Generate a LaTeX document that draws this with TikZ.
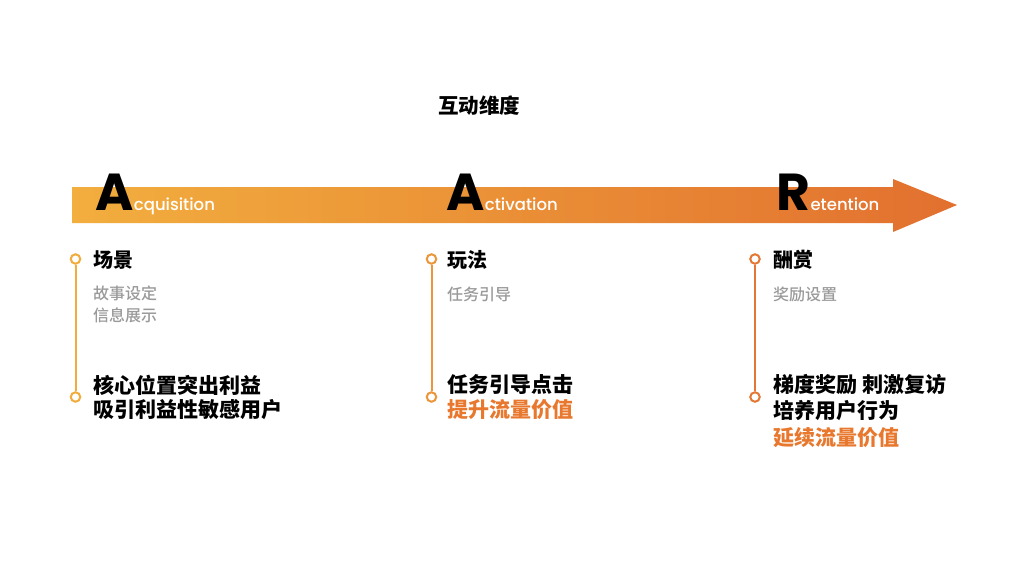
\documentclass[tikz,border=0pt]{standalone}
\usepackage{fontspec}
\setmainfont{Noto Sans CJK SC}[BoldFont=Noto Sans CJK SC Bold]
\newfontfamily\cjkheavy{Noto Sans CJK SC Black}
\newfontfamily\cjkmed{Noto Sans CJK SC Medium}
\newfontfamily\pop{Poppins}
\newfontfamily\popm{Poppins Medium}
\definecolor{cA}{HTML}{F2AC3C}
\definecolor{cB}{HTML}{EC963C}
\definecolor{cC}{HTML}{E27834}
\definecolor{gL}{HTML}{F2AE3E}
\definecolor{gR}{HTML}{E2702F}
\definecolor{txtor}{HTML}{E8782E}
\definecolor{gry}{HTML}{9A9A9A}
\begin{document}
\begin{tikzpicture}[x=1pt,y=-1pt,
  big/.style={anchor=base west,inner sep=0pt,font=\pop\bfseries\fontsize{52}{52}\selectfont,text=black},
  small/.style={anchor=base west,inner sep=0pt,font=\popm\fontsize{16.5}{16.5}\selectfont,text=white},
  head/.style={anchor=west,inner sep=0pt,font=\cjkheavy\fontsize{20}{20}\selectfont},
  sub/.style={anchor=west,inner sep=0pt,font=\cjkmed\fontsize{16}{16}\selectfont,text=gry},
  main/.style={anchor=west,inner sep=0pt,font=\cjkheavy\fontsize{21}{21}\selectfont},
  dotA/.style={circle,draw=cA,line width=2pt,fill=white,minimum size=9.5pt,inner sep=0pt},
  dotB/.style={circle,draw=cB,line width=2pt,fill=white,minimum size=9.5pt,inner sep=0pt},
  dotC/.style={circle,draw=cC,line width=2pt,fill=white,minimum size=9.5pt,inner sep=0pt},
  vline/.style={line width=2pt}]
\useasboundingbox (0,0) rectangle (1024,576);
\fill[white] (0,0) rectangle (1024,576);
% title
\node[inner sep=0pt,font=\cjkheavy\fontsize{20.5}{20.5}\selectfont] (title) at (479,106) {互动维度};
% arrow
\shade[left color=gL,right color=gR] (72,187) -- (893,187) -- (893,179) -- (957,205) -- (893,232) -- (893,223) -- (72,223) -- cycle;
% letters
\node[big] (A1) at (95,210) {A};
\node[small,anchor=base west] (a1) at (A1.base east) {cquisition};
\node[big] (A2) at (446,210) {A};
\node[small,anchor=base west] (a2) at (A2.base east) {ctivation};
\node[big] (R3) at (776,210) {R};
\node[small,anchor=base west] (r3) at (R3.base east) {etention};
% column 1
\node[dotA] (d1t) at (75.5,259) {};
\node[dotA] (d1b) at (75.5,397) {};
\draw[vline,draw=cA] (d1t) -- (d1b);
\node[head] (h1) at (93,260) {场景};
\node[sub] (s1a) at (93,293) {故事设定};
\node[sub] (s1b) at (93,315) {信息展示};
\node[main] (m1a) at (93,385) {核心位置突出利益};
\node[main] (m1b) at (93,410) {吸引利益性敏感用户};
% column 2
\node[dotB] (d2t) at (431.5,259) {};
\node[dotB] (d2b) at (431.5,397) {};
\draw[vline,draw=cB] (d2t) -- (d2b);
\node[head] (h2) at (447,260) {玩法};
\node[sub] (s2a) at (447,294) {任务引导};
\node[main] (m2a) at (447,385) {任务引导点击};
\node[main,text=txtor] (m2b) at (447,410) {提升流量价值};
% column 3
\node[dotC] (d3t) at (755,259) {};
\node[dotC] (d3b) at (755,397) {};
\draw[vline,draw=cC] (d3t) -- (d3b);
\node[head] (h3) at (773,260) {酬赏};
\node[sub] (s3a) at (773,294) {奖励设置};
\node[main] (m3a) at (773,385) {梯度奖励 刺激复访};
\node[main] (m3b) at (773,411) {培养用户行为};
\node[main,text=txtor] (m3c) at (773,438) {延续流量价值};
\end{tikzpicture}
\end{document}
